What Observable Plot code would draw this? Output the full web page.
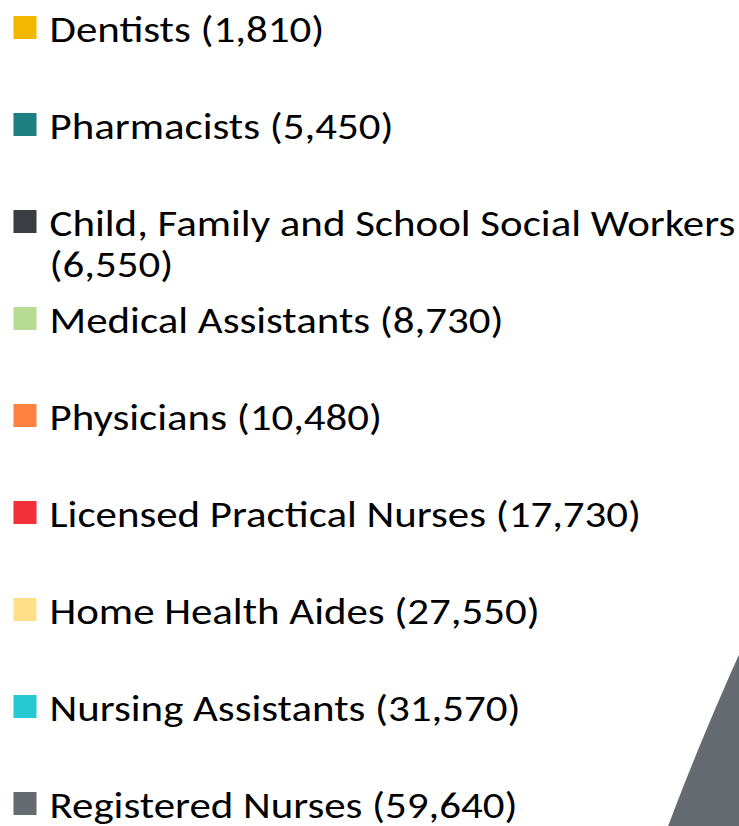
<!DOCTYPE html>
<html><head><meta charset="utf-8">
<script src="https://cdn.jsdelivr.net/npm/d3@7"></script>
<script src="https://cdn.jsdelivr.net/npm/@observablehq/plot@0.6"></script>
<style>body{margin:0;overflow:hidden;background:#fff}#wrap{position:relative;width:739px;height:826px;overflow:hidden}#wrap>svg{position:absolute;left:0;top:0}</style>
</head><body><div id="wrap"></div>
<script>
const occupations = ["Dentists","Pharmacists","Child, Family and School Social Workers","Medical Assistants","Physicians","Licensed Practical Nurses","Home Health Aides","Nursing Assistants","Registered Nurses"];
const employment = [1810,5450,6550,8730,10480,17730,27550,31570,59640];
const colors = ["#F2B700","#1E7F80","#3A3D42","#B6DC93","#FF8240","#F2303A","#FFE08A","#26C9D1","#666B72"];

const W = 739, H = 826;
const fmt = d3.format(",");
const rows = occupations.map((name, i) => ({name, value: employment[i], color: colors[i], label: `${name} (${fmt(employment[i])})`}));

// pie layout (center far off-canvas; only the Registered Nurses slice reaches the view)
const pieCx = 3475, pieCy = 1886, pieR = 3001;
const arcs = d3.pie().sort(null).value(d => d.value)(rows);
const pts = [];
for (const a of arcs) {
  const n = 400;
  pts.push({name: a.data.name, color: a.data.color, x: pieCx, y: pieCy});
  for (let k = 0; k <= n; k++) {
    const t = a.startAngle + (a.endAngle - a.startAngle) * k / n;
    pts.push({name: a.data.name, color: a.data.color, x: pieCx + pieR * Math.sin(t), y: pieCy - pieR * Math.cos(t)});
  }
}
const pie = Plot.plot({
  width: W, height: H, margin: 0,
  x: {domain: [0, W], range: [0, W], axis: null},
  y: {domain: [0, H], range: [0, H], axis: null},
  marks: [Plot.line(pts, {x: "x", y: "y", z: "name", fill: "color", stroke: null, curve: "linear"})]
});

const FONT = "Carlito, Lato, sans-serif";
const FS = 36.5;
const legend = Plot.plot({
  width: W, height: H, margin: 0,
  style: {background: "transparent", fontFamily: FONT},
  x: {type: "identity"},
  y: {type: "point", domain: occupations, range: [23.5, 806], padding: 0, axis: null},
  marks: [
    Plot.dot(rows, {x: () => 24.5, y: "name", symbol: "square", r: 13, fill: "color", stroke: null}),
    Plot.text(rows, {x: () => 49, y: "name", text: "label", textAnchor: "start", lineAnchor: "top", dy: -14.5, fontSize: FS, lineHeight: 1.12, lineWidth: 21, fill: "#000"})
  ]
});
// horizontal stretch of the label glyphs (reference text is wide for its height)
const ctx = document.createElement("canvas").getContext("2d");
ctx.font = `${FS}px ${FONT}`;
const kx = 686 / ctx.measureText("Child, Family and School Social Workers").width;
legend.querySelectorAll("text").forEach(t => {
  const tr = t.getAttribute("transform") || "";
  t.setAttribute("transform", `${tr} scale(${kx},1)`);
});
document.getElementById("wrap").append(pie, legend);
</script></body></html>
